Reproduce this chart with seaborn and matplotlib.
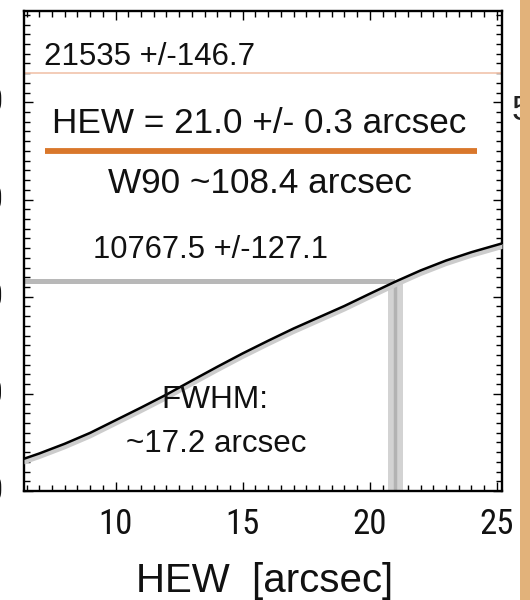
import numpy as np
import pandas as pd
import matplotlib
matplotlib.use('Agg')
import matplotlib.pyplot as plt
import matplotlib.transforms as mtransforms
from matplotlib import font_manager
import seaborn as sns
from matplotlib.ticker import MultipleLocator
from matplotlib.patches import Rectangle
from matplotlib.lines import Line2D

# ---- data ----
hew_arcsec = [6.4, 7.0, 8.0, 9.0, 10.0, 11.0, 12.0, 13.0, 14.0, 15.0,
              16.0, 17.0, 18.0, 19.0, 20.0, 21.0, 22.0, 23.0, 24.0, 25.2]
enclosed_counts = [1660, 1930, 2430, 2990, 3640, 4290, 4960, 5680, 6390, 7080,
                   7730, 8360, 8940, 9520, 10150, 10770, 11350, 11860, 12290, 12740]
total_counts = 21535.0
total_err = 146.7
half_counts = 10767.5
half_err = 127.1
hew_value = 21.0
hew_err = 0.3
x_ticks = [10, 15, 20, 25]
x_tick_labels = ['10', '15', '20', '25']
y_ticks = [0, 5000, 10000, 15000, 20000]
y_tick_labels = ['0', '5000', '10000', '15000', '20000']

sns.set_theme(style='white')
plt.rcParams['font.family'] = ['Liberation Sans', 'DejaVu Sans']

installed = {f.name for f in font_manager.fontManager.ttflist}
narrow = [n for n in ['Liberation Sans Narrow', 'Roboto Condensed', 'Open Sans Condensed']
          if n in installed] + ['Liberation Sans', 'DejaVu Sans']

fig = plt.figure(figsize=(5.3, 6.0), dpi=100)
fig.patch.set_facecolor('white')
ax = fig.add_axes([24 / 530, 109 / 600, 478 / 530, 480 / 600])
ax.set_facecolor('white')

df = pd.DataFrame({'hew': hew_arcsec, 'counts': enclosed_counts})
x0 = hew_arcsec[0]

# vertical HEW band
ax.fill_betweenx([0, half_counts], hew_value - hew_err, hew_value + hew_err,
                 color='#d3d3d3', lw=0, zorder=1)
ax.plot([hew_value, hew_value], [0, half_counts], color='#b3b3b3', lw=2.5, zorder=1)
# horizontal half-counts band
ax.fill_between([x0, hew_value], half_counts - half_err, half_counts + half_err,
                color='#b8b8b8', lw=0, zorder=2)
# total counts line
ax.axhline(total_counts, color='#f2c8b2', lw=1.3, zorder=2)

# curve shadow + curve
ax.fill_between(df['hew'], df['counts'] - 260, df['counts'], color='#cccccc', lw=0, zorder=3)
sns.lineplot(data=df, x='hew', y='counts', ax=ax, color='black', lw=1.8, zorder=4)

ax.set_xlim(6.4, 25.2)
ax.set_ylim(0, 24700)

ax.set_xticks(x_ticks, labels=x_tick_labels, fontsize=25, family=narrow, color='#111111')
ax.set_yticks(y_ticks, labels=y_tick_labels, fontsize=25, family=narrow, color='#111111')
ax.xaxis.set_minor_locator(MultipleLocator(0.5))
ax.yaxis.set_minor_locator(MultipleLocator(500))
ax.tick_params(which='both', direction='in', top=True, right=True,
               bottom=True, left=True, color='black', width=1.0)
ax.tick_params(which='major', length=6.5)
ax.tick_params(which='minor', length=4.3)
ax.tick_params(axis='x', which='major', pad=12.5)
ax.tick_params(axis='y', which='major', pad=14.6)
for s in ax.spines.values():
    s.set_color('black')
    s.set_linewidth(1.7)
    s.set_visible(True)

# y tick labels sit slightly above their ticks in the reference
shift = mtransforms.ScaledTranslation(0, 3 / 100, fig.dpi_scale_trans)
for lbl in ax.get_yticklabels():
    lbl.set_transform(lbl.get_transform() + shift)

ax.set_ylabel('')
ax.set_xlabel('HEW  [arcsec]', fontsize=29, color='#111111')
ax.xaxis.set_label_coords(0.503, -0.2104)
ax.xaxis.label.set_va('baseline')

# annotations
ax.text(0.042, 0.8875, '21535 +/-146.7', transform=ax.transAxes,
        fontsize=22.5, ha='left', va='baseline', color='#111111')
ax.text(0.4925, 0.745, 'HEW = 21.0 +/- 0.3 arcsec', transform=ax.transAxes,
        fontsize=25.3, ha='center', va='baseline', color='#111111')
ax.add_line(Line2D([0.044, 0.948], [0.708, 0.708], transform=ax.transAxes,
                   color='#d9772b', lw=4.2, solid_capstyle='butt', zorder=5))
ax.text(0.493, 0.6217, 'W90 ~108.4 arcsec', transform=ax.transAxes,
        fontsize=25.3, ha='center', va='baseline', color='#111111')
ax.text(0.144, 0.4846, '10767.5 +/-127.1', transform=ax.transAxes,
        fontsize=22.2, ha='left', va='baseline', color='#111111')
ax.text(0.40, 0.1723, 'FWHM:', transform=ax.transAxes,
        fontsize=22.7, ha='center', va='baseline', color='#111111', zorder=6)
ax.text(0.403, 0.0819, '~17.2 arcsec', transform=ax.transAxes,
        fontsize=22.5, ha='center', va='baseline', color='#111111', zorder=6)

# cropped fragment at the right and beige border
fig.text(512 / 530, (600 - 120) / 600, '5', fontsize=25,
         ha='left', va='baseline', color='#222222', zorder=5)
fig.add_artist(Rectangle((520 / 530, 0), 10 / 530, 1, transform=fig.transFigure,
                         facecolor='#e2b27a', edgecolor='none', zorder=10))

fig.savefig('out.png', dpi=100, facecolor='white')
